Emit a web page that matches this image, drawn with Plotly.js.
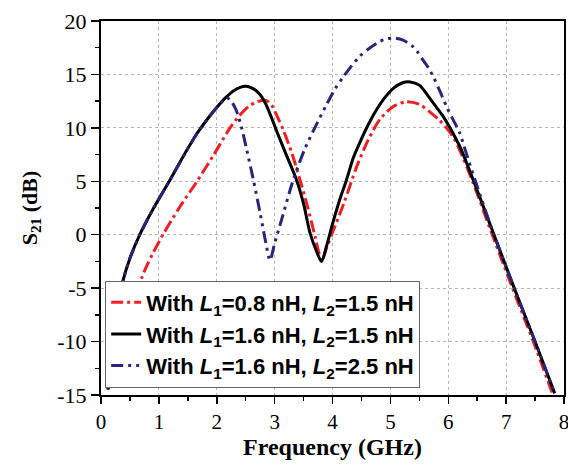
<!DOCTYPE html>
<html>
<head>
<meta charset="utf-8">
<script src="https://cdn.plot.ly/plotly-3.0.1.min.js"></script>
<style>html,body{margin:0;padding:0;background:#fff;}#chart{width:568px;height:468px;}</style>
</head>
<body>
<div id="chart"></div>
<script>
// Series: L1=0.8 nH, L2=1.5 nH (red dash-dot)
const redX = [0.30, 0.40, 0.50, 0.60, 0.70, 0.80, 0.90, 1.07, 1.35, 1.66, 1.95, 2.23, 2.40, 2.55, 2.70, 2.86, 2.95, 3.05, 3.15, 3.30, 3.44, 3.57, 3.70, 3.76, 3.81, 3.90, 4.00, 4.20, 4.42, 4.62, 4.82, 5.05, 5.28, 5.50, 5.68, 5.85, 5.97, 6.10, 6.20, 6.42, 6.76, 7.11, 7.47, 7.81];
const redY = [-14.0, -11.0, -8.5, -6.1, -4.1, -2.8, -1.7, 0.0, 2.5, 5.0, 7.5, 10.0, 11.2, 12.0, 12.45, 12.55, 12.1, 11.0, 9.8, 7.6, 5.1, 2.6, -0.2, -1.6, -2.5, -1.2, 0.2, 3.0, 6.4, 8.9, 10.8, 12.0, 12.45, 12.2, 11.5, 10.7, 10.0, 9.0, 7.9, 5.0, 0.0, -5.0, -10.0, -15.0];
// Series: L1=1.6 nH, L2=1.5 nH (black solid)
const blackX = [0.12, 0.22, 0.30, 0.38, 0.50, 0.67, 0.90, 1.19, 1.45, 1.65, 1.85, 2.00, 2.15, 2.30, 2.49, 2.62, 2.75, 2.85, 2.95, 3.05, 3.20, 3.38, 3.50, 3.61, 3.72, 3.81, 3.90, 4.00, 4.12, 4.24, 4.36, 4.47, 4.60, 4.75, 4.90, 5.05, 5.20, 5.34, 5.50, 5.65, 5.80, 5.92, 6.03, 6.13, 6.23, 6.44, 6.79, 7.14, 7.50, 7.84];
const blackY = [-14.5, -9.5, -6.5, -4.3, -2.2, 0.0, 2.4, 5.1, 7.6, 9.4, 10.9, 11.9, 12.8, 13.5, 13.9, 13.7, 13.1, 12.2, 10.9, 9.5, 7.5, 5.1, 2.9, 0.2, -1.5, -2.5, -1.0, 1.0, 3.2, 5.1, 7.2, 8.6, 10.1, 11.6, 12.8, 13.7, 14.2, 14.3, 14.0, 13.0, 11.9, 11.0, 10.0, 9.0, 7.9, 5.0, 0.0, -5.0, -10.0, -14.85];
// Series: L1=1.6 nH, L2=2.5 nH (navy dash-dot-dot)
const blueX = [0.12, 0.22, 0.30, 0.38, 0.50, 0.67, 0.90, 1.19, 1.45, 1.65, 1.85, 2.00, 2.10, 2.18, 2.25, 2.34, 2.43, 2.52, 2.63, 2.75, 2.85, 2.92, 3.00, 3.12, 3.32, 3.52, 3.73, 3.90, 4.05, 4.19, 4.33, 4.47, 4.65, 4.82, 4.95, 5.08, 5.22, 5.37, 5.47, 5.57, 5.66, 5.74, 5.85, 5.97, 6.08, 6.20, 6.33, 6.47, 6.79, 7.14, 7.50, 7.84];
const blueY = [-14.5, -9.5, -6.5, -4.3, -2.2, 0.0, 2.4, 5.1, 7.6, 9.4, 10.9, 11.9, 12.5, 12.8, 12.5, 11.6, 10.0, 7.9, 5.2, 2.0, -0.8, -2.4, -0.8, 1.4, 5.1, 8.0, 10.4, 12.2, 13.7, 14.8, 15.8, 16.7, 17.5, 18.1, 18.35, 18.4, 18.2, 17.7, 17.1, 16.3, 15.6, 14.8, 13.5, 12.0, 10.8, 9.5, 7.3, 5.0, 0.0, -5.0, -10.0, -14.85];

const legendNames = [
  "<b>With <i>L</i><sub>1</sub>=0.8 nH, <i>L</i><sub>2</sub>=1.5 nH</b>",
  "<b>With <i>L</i><sub>1</sub>=1.6 nH, <i>L</i><sub>2</sub>=1.5 nH</b>",
  "<b>With <i>L</i><sub>1</sub>=1.6 nH, <i>L</i><sub>2</sub>=2.5 nH</b>"
];

const xTickVals = [0, 1, 2, 3, 4, 5, 6, 7, 8];
const xTickText = ['0', '1', '2', '3', '4', '5', '6', '7', '8'];
const yTickVals = [-15, -10, -5, 0, 5, 10, 15, 20];
const yTickText = ['-15', '-10', '-5', '0', '5', '10', '15', '20'];

const traces = [
  {x: redX, y: redY, name: legendNames[0], legendgroup: 'a', mode: 'lines',
   line: {color: '#f01e23', width: 3, dash: '12px,4px,3px,4px', shape: 'spline', smoothing: 0.8}},
  {x: blackX, y: blackY, name: legendNames[1], legendgroup: 'b', mode: 'lines',
   line: {color: '#000000', width: 3, shape: 'spline', smoothing: 0.8}},
  {x: blueX, y: blueY, name: legendNames[2], legendgroup: 'c', mode: 'lines',
   line: {color: '#26267a', width: 3, dash: '12px,5px,3px,5px,3px,5px', shape: 'spline', smoothing: 0.8}}
];

const serif = 'Liberation Serif, DejaVu Serif, serif';
const tickSerif = 'Liberation Serif, Times New Roman, DejaVu Serif';
const layout = {
  width: 568, height: 468,
  margin: {l: 101, r: 4, t: 21, b: 73},
  paper_bgcolor: '#fff', plot_bgcolor: '#fff',
  font: {family: tickSerif, size: 21, color: '#000'},
  showlegend: true,
  legend: {x: 0.009, y: 0.306, xanchor: 'left', yanchor: 'top',
           bgcolor: '#fff', bordercolor: '#666', borderwidth: 1,
           traceorder: 'grouped', tracegroupgap: 0,
           font: {family: 'Liberation Sans, Arial, sans-serif', size: 22, color: '#000'}},
  xaxis: {range: [0, 8], tickmode: 'array', tickvals: xTickVals, ticktext: xTickText,
          ticklabeloverflow: 'allow',
          ticks: 'outside', ticklen: 7, tickwidth: 1.5, tickcolor: '#000',
          minor: {dtick: 0.5, tick0: 0, ticks: 'outside', ticklen: 4, tickwidth: 1.5, tickcolor: '#000', showgrid: false},
          showline: true, linecolor: '#000', linewidth: 2, mirror: true,
          showgrid: true, gridcolor: '#b5b5b5', griddash: 'dot', gridwidth: 1,
          zeroline: false, tickfont: {family: tickSerif, size: 21, color: '#000', weight: 400, style: 'normal'},
          title: {text: '<b>Frequency (GHz)</b>', standoff: 5,
                  font: {family: serif, size: 24, color: '#000'}}},
  yaxis: {range: [-15, 20], tickmode: 'array', tickvals: yTickVals, ticktext: yTickText,
          ticks: 'outside', ticklen: 8, tickwidth: 1.5, tickcolor: '#000',
          minor: {dtick: 2.5, tick0: 0, ticks: 'outside', ticklen: 4, tickwidth: 1.5, tickcolor: '#000', showgrid: false},
          showline: true, linecolor: '#000', linewidth: 2, mirror: true,
          showgrid: true, gridcolor: '#b5b5b5', griddash: 'dot', gridwidth: 1,
          zeroline: false, tickfont: {family: tickSerif, size: 22, color: '#000', weight: 400, style: 'normal'},
          title: {text: '<b>S<sub>21</sub> (dB)</b>', standoff: 14,
                  font: {family: serif, size: 22, color: '#000'}}}
};

Plotly.newPlot('chart', traces, layout, {displayModeBar: false, staticPlot: true});
</script>
</body>
</html>
